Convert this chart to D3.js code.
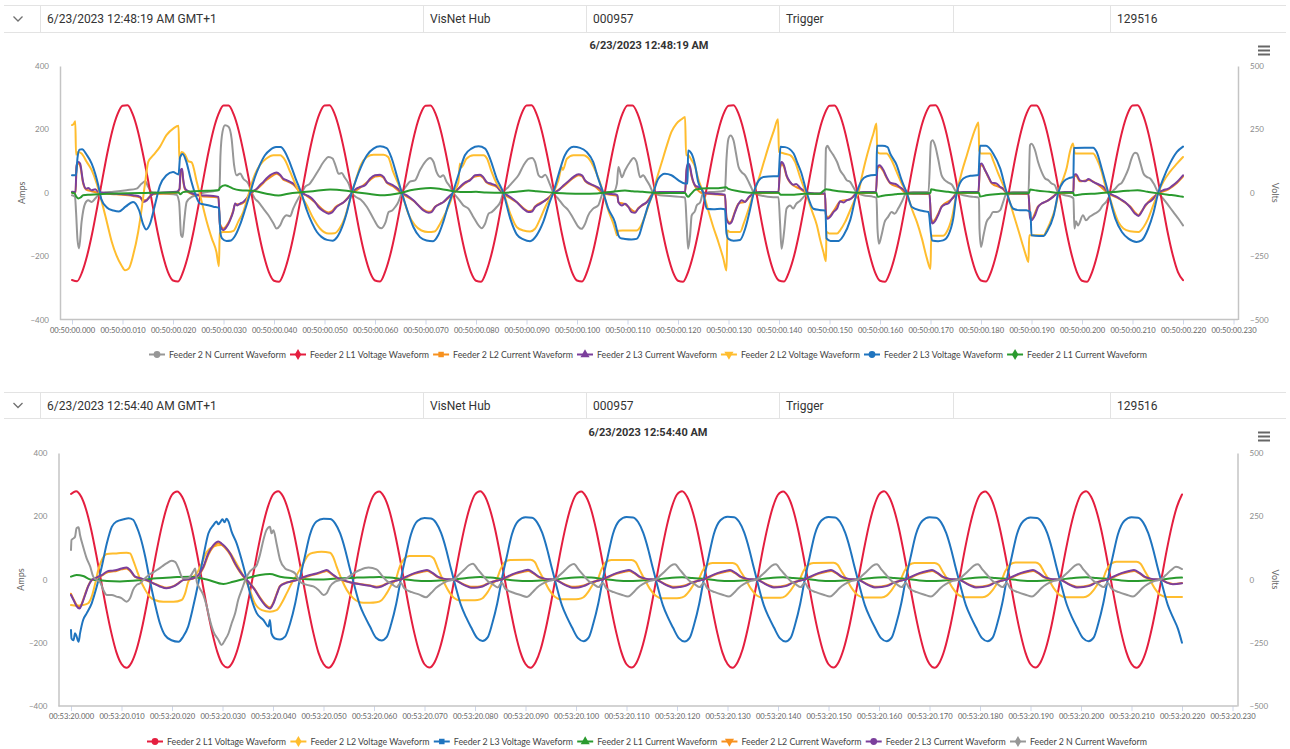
<!DOCTYPE html>
<html>
<head>
<meta charset="utf-8">
<script src="https://cdn.jsdelivr.net/npm/d3@7"></script>
<style>
  body { margin: 0; background: #fff; }
  svg { display: block; }
</style>
</head>
<body>
<svg id="page" width="1290" height="749"></svg>
<script>
// ---------------------------------------------------------------
// Shared axis values
// ---------------------------------------------------------------
const axisMs = [0, 10, 20, 30, 40, 50, 60, 70, 80, 90, 100, 110, 120, 130, 140, 150, 160, 170, 180, 190, 200, 210, 220, 230];
const ampTicks = [-400, -200, 0, 200, 400];
const voltTicks = [-500, -250, 0, 250, 500];

// ---------------------------------------------------------------
// Event 1 : 6/23/2023 12:48:19 AM
// ---------------------------------------------------------------
const ev1Header = ["6/23/2023 12:48:19 AM GMT+1", "VisNet Hub", "000957", "Trigger", "", "129516"];
const ev1Title = "6/23/2023 12:48:19 AM";
const ev1TimePrefix = "00:50:00.";

// L1 voltage (V), one sample per millisecond
const ev1_L1V = [
  -344,-349,-313,-248,-160,-56,52,157,246,309,343,345,311,247,158,56,-54,-160,-248,-313,
  -346,-350,-312,-247,-159,-55,53,158,247,310,344,344,310,246,157,55,-55,-161,-249,-314,
  -347,-351,-313,-246,-158,-54,54,159,247,311,344,345,311,246,158,54,-55,-160,-248,-313,
  -346,-350,-312,-247,-159,-55,53,158,246,310,343,344,311,247,158,55,-54,-160,-249,-314,
  -347,-351,-313,-248,-160,-55,53,157,246,310,344,345,310,246,157,55,-55,-161,-248,-313,
  -346,-350,-312,-247,-158,-54,54,158,247,311,344,344,311,247,158,54,-55,-160,-248,-313,
  -347,-351,-313,-247,-159,-55,53,158,246,310,343,345,311,246,157,55,-54,-160,-249,-314,
  -346,-350,-312,-248,-160,-56,52,157,246,309,343,344,310,246,158,56,-54,-161,-248,-313,
  -347,-351,-313,-247,-159,-55,53,158,247,310,344,345,311,247,158,55,-55,-160,-248,-313,
  -346,-350,-312,-246,-158,-54,54,159,247,311,344,344,310,246,157,54,-55,-161,-249,-314,
  -347,-351,-313,-247,-159,-55,53,158,246,310,344,345,311,247,158,55,-54,-160,-248,-313,
  -345
];

// L2 voltage (V), [ms, value]
const ev1_L2V = [
  [0,267],[0.4,273],[0.65,282],[0.8,150],[1.2,161],[1.9,155],[2.9,122],[3.9,89],[4.9,36],[5.9,-36],[6.9,-115],[7.9,-195],[8.8,-247],[9.8,-287],[10.5,-306],[11.2,-300],[12.1,-247],[13.1,-155],[13.8,-63],[14.5,43],[15.1,122],[16.1,148],[17.4,181],[18.7,227],[20.1,254],[21.1,264],[21.25,130],[21.7,161],[22.4,150],[23,125],[23.7,120],[24.7,43],[25.7,-36],[26.7,-115],[27.7,-181],[28.6,-234],[29.1,-290],[29.25,-160],[30,-155],[31,-155],[32,-150],[32.9,-115],[33.9,-76],[34.9,-10],[35.9,56],[37.2,109],[38.5,135],[39.9,148],[41.2,148],[42.2,128],[43.2,82],[44.2,36],[45.1,-3],[46.5,-49],[47.8,-102],[49.1,-141],[50.8,-161],[52,-160],[53,-140],[54,-100],[55,-30],[55.6,10],[56.5,70],[57.2,110],[58.4,141],[59.7,150],[61.7,150],[62.6,141],[63.6,82],[64.6,36],[65.3,0],[66.6,-83],[67.9,-128],[69.2,-149],[70.5,-155],[71.8,-153],[72.9,-122],[73.9,-83],[74.9,-37],[75.5,0],[76.5,40],[76.8,115],[77.1,100],[78.1,134],[79.5,148],[81.5,148],[82.2,134],[83.1,82],[84.1,36],[85.4,0],[86.8,-83],[88.1,-136],[89.4,-149],[90.7,-153],[91.7,-142],[92.7,-103],[93.7,-57],[94.6,-24],[95.3,0],[96.3,49],[97,101],[97.2,90],[98,134],[99.3,148],[101.2,148],[102.6,128],[103.9,75],[105.2,0],[106.2,-70],[107.2,-122],[107.7,-155],[107.9,-168],[108.2,-150],[109,-149],[110.5,-149],[111.8,-149],[112.5,-136],[113.5,-90],[114.4,-37],[115.1,0],[115.8,55],[116.8,121],[117.8,187],[118.7,240],[119.7,273],[120.7,290],[121.4,299],[121.6,148],[122,148],[122.7,128],[123.4,101],[124,55],[125,0],[126,-70],[127,-136],[128,-195],[129,-261],[129.6,-307],[129.8,-149],[130.3,-155],[131,-155],[132.3,-155],[133,-122],[134,-63],[135,0],[136,55],[137,121],[138,187],[139,246],[139.8,290],[140,161],[141,155],[142.2,148],[143.2,121],[144.2,60],[145.5,-10],[146.5,-70],[147.5,-128],[148.1,-181],[148.8,-234],[149.3,-270],[149.4,-155],[150,-161],[151.5,-161],[152.1,-148],[153.1,-115],[154.1,-69],[155.1,-23],[155.7,0],[156.4,63],[157.1,122],[158,188],[158.7,234],[159.3,273],[159.45,161],[160,155],[161.3,155],[162.3,128],[163.3,82],[164.3,36],[165.3,0],[166.3,-63],[167.3,-115],[168.3,-181],[169.3,-260],[170,-300],[170.15,-168],[170.5,-170],[172.5,-170],[173.2,-155],[174.2,-102],[175.2,0],[176.2,82],[177.2,148],[178.2,214],[178.9,254],[179.5,277],[179.65,168],[180,155],[181.8,155],[182.4,128],[183.4,76],[184.4,30],[185.1,0],[186.1,-63],[187.1,-128],[188.1,-195],[188.8,-241],[189.4,-273],[189.55,-168],[190.5,-168],[192.4,-168],[193,-148],[194,-102],[195,-36],[195.3,0],[196.3,56],[197,101],[197.6,161],[198.2,194],[198.6,155],[200,155],[202.2,155],[202.9,135],[203.9,82],[204.5,36],[205.2,0],[206.2,-63],[207.2,-115],[208.2,-141],[209.5,-152],[211.2,-155],[212.2,-135],[213.1,-102],[214.1,-50],[215.1,0],[216.1,43],[217.4,82],[218.8,115],[220,141]
];

// L3 voltage (V), [ms, value]
const ev1_L3V = [
  [0,69],[0.8,70],[1.1,140],[1.5,170],[2,172],[2.9,150],[3.9,115],[4.6,75],[5.2,30],[5.8,-25],[6.9,-58],[8.2,-70],[9.3,-74],[10.6,-55],[12.1,-36],[13.3,-70],[14.1,-125],[14.7,-145],[15.4,-125],[16.4,-50],[17.4,28],[18.7,69],[20,82],[21.1,72],[21.4,140],[21.9,153],[22.6,125],[23.5,55],[24.5,-10],[25.3,-42],[26.7,-48],[28,-55],[29.1,-60],[29.4,-160],[29.7,-180],[30.6,-190],[31.5,-188],[32.3,-170],[33.3,-125],[34.3,-65],[35.3,0],[36.2,60],[37.2,110],[38.2,148],[39.2,168],[40.4,180],[41.3,180],[42.2,160],[43.2,115],[44.3,55],[45.4,0],[46.5,-69],[47.5,-118],[48.5,-155],[49.4,-174],[50.5,-186],[51.6,-189],[52.5,-175],[53.5,-135],[54.5,-72],[55.4,0],[56.4,60],[57.2,100],[58.4,148],[59.7,174],[61,183],[62.3,176],[63.3,136],[64.3,69],[65.3,0],[66.3,-63],[67.6,-135],[68.9,-175],[70.2,-188],[71.5,-191],[72.5,-168],[73.5,-116],[74.5,-50],[75.4,0],[76.5,69],[77.8,148],[79.1,174],[80.5,183],[81.8,174],[82.8,134],[84.1,56],[85.4,0],[86.8,-103],[88.1,-165],[89.4,-184],[90.7,-191],[92,-168],[93.3,-116],[94.6,-37],[95.3,0],[96.3,69],[97.6,148],[99.3,181],[100.6,177],[101.9,161],[103.2,122],[104.2,56],[105.2,0],[106.2,-63],[107.5,-116],[108.2,-168],[108.6,-179],[109.5,-182],[110.8,-184],[111.8,-182],[112.3,-168],[113.1,-116],[114.1,-50],[115.1,0],[116.1,55],[117.4,75],[118.7,69],[120.1,49],[121.4,36],[121.9,36],[122,167],[122.7,154],[123.4,108],[124,42],[125,0],[125.7,-63],[127,-65],[128.5,-63],[129.3,-65],[129.6,-160],[130,-182],[131,-189],[132.3,-186],[133.3,-142],[134.3,-63],[135,0],[136,49],[136.9,62],[138.9,65],[139.9,65],[140.3,181],[141.2,180],[142.9,155],[143.6,120],[144.4,80],[145.5,0],[146.8,-63],[148,-68],[149.2,-70],[149.4,-180],[150.2,-190],[151.8,-190],[152.8,-168],[154.1,-108],[155.4,0],[156.4,49],[157.4,65],[159,70],[159.3,70],[159.4,185],[160.5,185],[161.5,180],[162,155],[163.3,109],[164.3,49],[165.3,0],[166.3,-56],[168,-70],[169.6,-76],[170.3,-188],[171.5,-191],[172.5,-188],[173.5,-168],[174.5,-102],[175.2,0],[176.5,56],[177.9,67],[179.5,70],[179.8,185],[181,185],[182.4,155],[183.8,96],[185.1,0],[186.4,-63],[187.7,-69],[189,-69],[189.8,-78],[190,-168],[191.5,-171],[192.4,-171],[193,-155],[194.4,-89],[195.3,0],[196.3,43],[197.6,59],[198.3,63],[198.4,177],[200.5,178],[202.2,178],[202.9,161],[203.9,96],[205.2,0],[206.6,-102],[207.9,-155],[209.2,-181],[210.8,-194],[211.8,-188],[213.1,-142],[214.1,-83],[215.1,0],[216.1,56],[217.4,115],[218.8,161],[220,182]
];

// L1 current (A), [ms, value]
const ev1_L1I = [
  [0,0],[0.5,-2],[0.8,-11],[1.25,-18],[1.7,-15],[2.2,-8],[3.6,-6],[6.9,-3],[13.5,-1],[20,1],[21.1,1],[21.4,-5],[22,2],[23.4,4],[26.7,6],[29,8],[29.3,16],[30.3,24],[31,20],[31.9,13],[33.3,8],[35.9,6],[38.5,-3],[40.9,-9],[42.8,-3],[45.8,2],[48.4,6],[51.1,10],[54.4,6],[57,0],[59,-4],[61,-8],[63,-6],[65.3,0],[67,8],[69,13],[71,15],[73,12],[75.5,5],[78,2],[80,3],[82,1],[85.4,0],[88,3],[90.4,7],[92,5],[95.3,0],[98,-2],[101,-3],[104,-2],[105.2,0],[107,3],[109.5,7],[111,5],[113,3],[115.1,0],[118,-1],[121.4,-1],[121.7,-8],[122,-13],[122.5,-5],[123.5,10],[126,14],[128,14],[129.5,17],[130,12],[132,5],[135,0],[139.9,0],[140.3,-6],[141,-6],[143,-6],[145,-3],[148,-3],[149.3,11],[150.5,8],[153,3],[155.4,0],[159.3,0],[159.5,-13],[160.3,-10],[163,-5],[165.3,-2],[170,-1],[170.1,11],[171,8],[173.5,3],[175.2,0],[179.6,0],[179.8,-12],[181,-8],[183.5,-4],[185.1,-2],[189.5,-1],[189.7,10],[191,7],[193.5,3],[195.3,0],[198.3,0],[198.4,-8],[200,-5],[203,-2],[206,2],[209,6],[211,8],[213,3],[215.1,-2],[217,-6],[219,-10],[220,-13]
];

// L2 current (A), [ms, value]
const ev1_L2I = [
  [0,0],[0.7,-1],[0.9,80],[1.25,92],[1.6,86],[2.2,30],[2.8,10],[3.9,5],[5.2,0],[8.8,-5],[12.1,-10],[13.5,-15],[14.1,-24],[14.8,-22],[15.4,-12],[16.1,-5],[20.7,0],[21.3,10],[21.5,66],[21.8,70],[22,40],[22.4,10],[23,2],[25.3,-10],[29,-15],[29.3,-98],[30,-113],[30.6,-104],[31.3,-84],[31.9,-58],[32.3,-36],[33.3,-36],[34.6,-20],[35.2,-5],[35.9,3],[37.2,20],[38.5,40],[39.9,56],[40.5,60],[41.2,54],[41.8,42],[42.5,37],[43.8,26],[45.1,3],[46.5,-10],[48.1,-30],[49.8,-55],[50.8,-62],[51.5,-58],[52.2,-45],[53.8,-30],[55.4,-2],[57,15],[59,40],[60,51],[61,53],[61.7,47],[62.3,32],[63.6,20],[65.3,-2],[67.6,-25],[69.6,-53],[70.6,-60],[71.2,-58],[71.9,-44],[73.5,-30],[75.5,-2],[77.8,29],[79.8,51],[80.8,54],[81.4,47],[82.1,32],[84.1,18],[85.4,-2],[88.1,-30],[90.4,-58],[91.1,-56],[91.7,-43],[93.7,-24],[95.3,-2],[97.3,20],[99.3,47],[100.3,55],[101,52],[101.6,37],[103.6,19],[105.2,-2],[108,-10],[108.2,-30],[109.5,-36],[111.5,-60],[112.1,-49],[113.8,-30],[115.1,-2],[121.4,0],[121.7,70],[122,86],[122.4,76],[122.7,50],[123.4,20],[125,-2],[129.3,-8],[129.6,-78],[130.2,-94],[130.6,-89],[131.3,-58],[132,-34],[133.3,-28],[135,-2],[139.9,0],[140.2,76],[140.5,91],[141,81],[141.5,52],[142.2,32],[144.2,12],[145.8,-2],[149.1,-4],[149.3,-68],[149.6,-78],[150.8,-58],[152.1,-28],[154.1,-20],[155.4,-2],[159.2,0],[159.5,77],[159.9,82],[160.7,67],[161.3,47],[162,30],[163.9,16],[165.3,-2],[169.8,-4],[170.1,-78],[170.4,-92],[171.5,-67],[172.2,-43],[174.2,-20],[175.2,-2],[179.5,0],[179.8,82],[180.1,87],[181.5,47],[182.1,30],[184.4,11],[185.1,-2],[189.4,-4],[189.7,-73],[190,-83],[191.3,-43],[193.3,-24],[195.3,-2],[198.3,0],[198.4,50],[198.8,54],[199.6,36],[201.3,40],[203.3,24],[205.2,-2],[207.5,-20],[209.5,-43],[211.2,-70],[211.8,-58],[213.1,-30],[215.1,-2],[217.1,11],[218.8,31],[220,51]
];

// L3 current (A), [ms, value]
const ev1_L3I = [
  [0,3],[0.7,2],[0.9,87],[1.25,97],[1.6,92],[2.2,34],[2.8,13],[3.2,15],[3.9,8],[4.6,11],[5.2,3],[6.2,0],[8.8,-3],[12.1,-8],[13.5,-13],[14.1,-29],[14.8,-24],[15.4,-13],[16.1,-3],[17.4,0],[20.7,3],[21.3,13],[21.5,71],[21.8,76],[22,45],[22.4,13],[23,5],[25.3,-8],[28,-10],[29,-13],[29.3,-103],[30,-118],[30.6,-108],[31.3,-87],[31.9,-61],[32.3,-34],[32.7,-40],[33.3,-34],[33.9,-29],[34.6,-18],[35.2,-3],[35.9,5],[36.6,13],[37.2,24],[37.9,34],[38.5,45],[39.2,55],[39.9,61],[40.5,64],[41.2,57],[41.8,45],[42.5,40],[43.2,34],[43.8,29],[44.5,18],[45.1,5],[45.8,-3],[46.5,-8],[47.5,-18],[48.1,-29],[48.8,-45],[49.8,-58],[50.8,-66],[51.5,-62],[52.2,-48],[53,-38],[53.8,-30],[54.6,-18],[55.4,0],[56.2,12],[57,18],[58,23],[59,44],[60,55],[61,57],[61.7,50],[62.3,34],[63,28],[63.6,23],[64.6,12],[65.3,0],[66.3,-8],[67.6,-24],[68.6,-40],[69.6,-56],[70.6,-63],[71.2,-61],[71.9,-45],[72.9,-35],[73.5,-30],[74.5,-14],[75.5,0],[76.5,13],[77.1,23],[77.8,32],[78.8,39],[79.8,55],[80.8,57],[81.4,50],[82.1,34],[83.1,28],[84.1,21],[84.8,7],[85.4,0],[86.8,-14],[88.1,-30],[89.4,-51],[90.4,-61],[91.1,-59],[91.7,-45],[92.7,-35],[93.7,-24],[94.6,-14],[95.3,0],[96.3,7],[97.3,23],[98.3,36],[99.3,50],[100.3,58],[101,55],[101.6,39],[102.6,28],[103.6,21],[104.5,13],[105.2,0],[106.2,-3],[107.5,-5],[108,-8],[108.2,-30],[108.9,-40],[109.5,-35],[110.2,-45],[110.8,-61],[111.5,-63],[112.1,-51],[112.8,-40],[113.8,-30],[114.4,-19],[115.1,0],[116.4,2],[121.4,2],[121.7,76],[122,92],[122.4,81],[122.7,55],[123.4,23],[124,18],[124.7,10],[125,0],[127,-3],[129.3,-6],[129.6,-82],[130.2,-98],[130.6,-93],[131.3,-61],[132,-35],[132.6,-24],[133.3,-29],[134,-14],[134.6,-6],[135,0],[136.2,2],[139.9,2],[140.2,81],[140.5,97],[141,86],[141.5,55],[142.2,34],[142.8,25],[143.4,28],[144.2,15],[145.2,5],[145.8,0],[147,-2],[149.1,-2],[149.3,-71],[149.6,-82],[150.1,-77],[150.8,-61],[151.5,-50],[152.1,-27],[152.8,-31],[153.4,-24],[154.1,-20],[154.7,-13],[155.4,0],[156.7,2],[159.2,2],[159.5,82],[159.9,87],[160.7,71],[161.3,50],[162,32],[162.6,29],[163.3,26],[163.9,18],[164.6,11],[165.3,0],[166.6,-2],[169.8,-2],[170.1,-82],[170.4,-97],[170.9,-90],[171.5,-71],[172.2,-45],[172.9,-37],[173.5,-34],[174.2,-20],[174.9,-8],[175.2,0],[176.5,2],[179.5,2],[179.8,87],[180.1,92],[180.8,71],[181.5,50],[182.1,32],[183.1,29],[183.8,18],[184.4,13],[185.1,0],[186.4,-2],[189.4,-2],[189.7,-77],[190,-87],[190.7,-71],[191.3,-45],[192,-34],[192.7,-29],[193.3,-24],[194.3,-13],[195.3,0],[196.6,2],[198.3,2],[198.4,55],[198.8,58],[199.6,39],[200.6,36],[201.3,43],[202.2,34],[203.3,26],[204.3,18],[205.2,0],[206.2,-8],[206.9,-13],[207.5,-19],[208.5,-29],[209.5,-45],[210.5,-66],[211.2,-73],[211.8,-61],[212.5,-40],[213.1,-31],[213.8,-24],[214.4,-13],[215.1,0],[216.1,8],[217.1,13],[217.8,21],[218.8,34],[220,55]
];

// Neutral current (A), [ms, value]
const ev1_NI = [
  [0,-8],[0.6,-13],[0.8,-60],[1.1,-150],[1.4,-176],[1.9,-92],[2.6,-34],[3.2,-24],[3.9,-29],[4.6,-18],[5.2,-8],[6.2,0],[8.2,3],[10.8,8],[12.8,13],[13.8,29],[14.5,36],[15.1,18],[15.8,2],[16.8,0],[18.7,-3],[20.7,-6],[21.2,-29],[21.6,-134],[21.9,-140],[22.2,-92],[22.7,-29],[23.7,-13],[24.7,-8],[26,0],[28,5],[29.2,10],[29.4,119],[29.8,192],[30.3,213],[31,208],[31.6,171],[32.1,87],[32.6,55],[33.3,61],[33.9,45],[34.9,29],[35.6,0],[36.2,-18],[36.9,-29],[37.9,-50],[38.9,-71],[39.9,-97],[40.5,-113],[41.2,-103],[41.8,-82],[42.5,-71],[43.2,-74],[43.8,-50],[44.8,-18],[45.5,0],[46.1,18],[47.1,29],[47.8,45],[48.8,71],[49.8,97],[50.8,113],[51.6,108],[52.2,85],[52.8,60],[53.4,62],[54,48],[54.8,28],[55.4,0],[56.4,-15],[57.2,-22],[58.4,-45],[59.7,-82],[60.7,-108],[61.3,-112],[62.1,-93],[62.7,-61],[63.4,-56],[64,-45],[64.6,-30],[65.3,0],[66.3,23],[66.9,35],[67.9,39],[68.9,71],[69.9,97],[70.9,110],[71.6,97],[72.2,65],[72.9,50],[73.5,55],[74.2,34],[74.9,18],[75.5,0],[76.5,-19],[77.5,-40],[78.5,-50],[79.5,-77],[80.5,-103],[81.1,-112],[81.8,-98],[82.5,-66],[83.1,-61],[84.1,-45],[84.8,-30],[85.4,0],[86.4,18],[87.4,36],[88.4,55],[89.4,86],[90.4,107],[91.1,110],[91.7,97],[92.4,55],[93,49],[93.7,57],[94.6,28],[95.3,0],[96.3,-19],[97.3,-40],[98.3,-56],[99.3,-82],[100.3,-108],[100.9,-114],[101.6,-98],[102.2,-72],[103.2,-50],[104.2,-40],[105.2,0],[106.2,2],[107.2,2],[107.9,28],[108.2,81],[108.9,49],[109.5,70],[110.5,97],[111.2,110],[111.8,97],[112.5,49],[113.1,55],[113.8,39],[114.4,23],[115.1,0],[116.4,-8],[118.4,-10],[120.4,-13],[121.4,-15],[121.7,-93],[122,-177],[122.4,-134],[122.7,-72],[123.4,-56],[123.7,-40],[124.4,-30],[125,0],[126.3,2],[128.3,4],[129.3,7],[129.6,107],[130,171],[130.4,181],[131,165],[131.5,123],[132,81],[132.6,65],[133.3,55],[134,34],[134.6,13],[135,0],[136.2,-8],[138.9,-14],[139.9,-14],[140.2,-93],[140.5,-177],[141,-124],[141.5,-50],[142.2,-40],[142.8,-50],[143.4,-35],[144.2,-25],[145.2,-8],[145.8,0],[147,-3],[149.1,-3],[149.3,140],[149.6,148],[150.1,134],[150.8,118],[151.5,97],[152.1,71],[152.8,55],[153.4,40],[154.1,34],[154.7,18],[155.4,0],[156.7,-8],[158.7,-13],[159.3,-16],[159.5,-113],[159.8,-161],[160.3,-134],[160.9,-93],[161.6,-76],[162.3,-61],[162.9,-66],[163.6,-50],[164.3,-29],[165.3,0],[166.6,2],[169.6,2],[170.1,160],[170.4,166],[170.9,150],[171.5,108],[172.2,55],[172.9,39],[173.5,32],[174.2,26],[175.2,0],[176.5,-8],[178.5,-13],[179.6,-16],[179.7,-113],[180,-171],[180.5,-134],[181.1,-92],[181.8,-76],[182.4,-61],[183.1,-61],[183.8,-55],[184.4,-29],[185.1,0],[186.4,2],[189.4,2],[189.7,150],[190,155],[190.7,134],[191.3,97],[192,66],[192.7,45],[193.3,40],[194,29],[194.6,24],[195.3,0],[196.6,-8],[197.9,-13],[198.3,-18],[198.5,-113],[198.8,-90],[199.2,-103],[200.2,-71],[200.8,-87],[201.5,-76],[202.5,-66],[203.5,-55],[204.1,-40],[204.8,-29],[205.5,-8],[205.8,0],[206.6,13],[207.2,24],[207.9,32],[208.5,50],[209.2,76],[209.8,108],[210.5,126],[210.9,124],[211.5,97],[212.2,60],[212.8,50],[213.5,45],[214.2,29],[215.1,0],[216.1,-19],[217.1,-40],[218.1,-61],[219.1,-82],[220,-103]
];

// ---------------------------------------------------------------
// Event 2 : 6/23/2023 12:54:40 AM
// ---------------------------------------------------------------
const ev2Header = ["6/23/2023 12:54:40 AM GMT+1", "VisNet Hub", "000957", "Trigger", "", "129516"];
const ev2Title = "6/23/2023 12:54:40 AM";
const ev2TimePrefix = "00:53:20.";

// L1 voltage (V), one sample per millisecond
const ev2_L1V = [
  338,349,328,276,197,98,-10,-117,-212,-288,-334,-349,-328,-276,-197,-98,10,117,212,287,
  335,348,327,275,196,97,-11,-118,-213,-288,-335,-348,-327,-275,-196,-97,11,118,213,288,
  336,349,328,275,197,97,-11,-117,-212,-289,-334,-349,-328,-276,-196,-98,10,118,213,288,
  335,348,327,276,196,98,-10,-118,-213,-288,-335,-348,-327,-275,-197,-97,11,117,212,287,
  336,349,328,275,197,97,-11,-117,-213,-288,-334,-349,-327,-276,-196,-98,10,118,213,288,
  335,348,327,276,196,97,-10,-118,-212,-288,-335,-348,-328,-275,-197,-97,11,117,213,288,
  336,349,327,275,197,98,-11,-117,-213,-289,-334,-349,-327,-276,-196,-97,10,118,212,287,
  335,348,328,276,196,97,-10,-118,-213,-288,-335,-348,-327,-275,-197,-98,11,117,213,288,
  336,349,327,275,197,97,-11,-117,-212,-288,-334,-349,-328,-276,-196,-97,10,118,213,288,
  335,348,328,276,196,98,-10,-118,-213,-289,-335,-348,-327,-275,-197,-97,11,117,212,287,
  336,349,327,275,197,97,-11,-117,-213,-288,-334,-349,-328,-276,-196,-98,10,118,213,288,
  336
];

// L2 voltage (V), [ms, value]
const ev2_L2V = [
  [0,-101],[1.1,-104],[2.4,-101],[3.4,-94],[4.1,-68],[4.8,-15],[5.4,38],[6.1,77],[7.1,101],[9,103],[11,106],[11.7,103],[12.3,77],[13,38],[13.7,0],[14.7,-41],[15.6,-68],[16.6,-81],[18.3,-88],[20.3,-88],[21.9,-81],[22.6,-55],[23.2,-10],[23.8,5],[24.9,24],[25.9,64],[26.9,110],[28.2,130],[29.8,136],[30.8,123],[31.8,97],[33.1,51],[34.5,0],[35.4,-41],[36.4,-94],[37.8,-121],[39.4,-127],[40.7,-121],[41.7,-94],[42.7,-55],[43.7,-15],[44.7,18],[46,64],[47,97],[48,106],[49.6,110],[51.3,106],[51.9,90],[52.6,51],[53.6,0],[54.6,-41],[55.9,-74],[57.9,-92],[59.2,-92],
  [60.5,-90],[61.5,-82],[62.5,-55],[63.5,-20],[64.3,0],[65,45],[66,82],[67,93],[71,93],[71.8,84],[72.6,47],[73.6,0],[74.6,-40],[75.8,-72],[77,-82],[79.5,-82],
  [80.5,-81],[81.5,-74],[82.5,-50],[83.5,-16],[84.3,0],[85,38],[86,70],[87,77],[91,78],[91.8,70],[92.6,38],[93.6,0],[94.6,-38],[95.8,-68],[97,-78],[99.5,-78],
  [100.5,-77],[101.5,-70],[102.5,-47],[103.5,-15],[104.3,0],[105,38],[106,70],[107,77],[111,77],[111.8,69],[112.6,38],[113.6,0],[114.6,-36],[115.8,-64],[117,-74],[119.5,-74],
  [120.5,-73],[121.5,-66],[122.5,-44],[123.5,-14],[124.3,0],[125,32],[126,58],[127,65],[131,65],[131.8,58],[132.6,32],[133.6,0],[134.6,-35],[135.8,-63],[137,-72],[139.5,-72],
  [140.5,-72],[141.5,-65],[142.5,-43],[143.5,-14],[144.3,0],[145,32],[146,58],[147,65],[151,66],[151.8,58],[152.6,32],[153.6,0],[154.6,-34],[155.8,-62],[157,-71],[159.5,-71],
  [160.5,-71],[161.5,-64],[162.5,-42],[163.5,-13],[164.3,0],[165,32],[166,58],[167,65],[171,65],[171.8,58],[172.6,32],[173.6,0],[174.6,-34],[175.8,-62],[177,-70],[179.5,-70],
  [180.5,-70],[181.5,-63],[182.5,-42],[183.5,-13],[184.3,0],[185,33],[186,60],[187,67],[191,67],[191.8,59],[192.6,33],[193.6,0],[194.6,-34],[195.8,-62],[197,-70],[199.5,-70],
  [200.5,-70],[201.5,-63],[202.5,-42],[203.5,-13],[204.3,0],[205,35],[206,63],[207,70],[211,70],[211.8,62],[212.6,35],[213.6,0],[214.6,-35],[215.8,-62],[217,-69],[220,-69]
];

// L3 voltage (V), [ms, value]
const ev2_L3V = [
  [0,-200],[0.1,-233],[0.5,-240],[0.8,-212],[1.1,-225],[1.5,-246],[1.8,-212],[2.4,-160],[3.1,-134],[4.1,-94],[5.1,-28],[6.1,51],[7.1,143],[8.1,209],[9,229],[10.4,238],[11.4,242],[12.3,236],[13,209],[13.7,170],[14.7,90],[15.6,-2],[16.6,-94],[17.6,-173],[18.6,-220],[19.9,-240],[21.3,-246],[22.2,-226],[23.2,-186],[24.2,-107],[25.2,-15],[26.2,90],[27.2,182],[28.2,215],[28.8,229],[29.2,218],[29.5,225],[30,238],[30.4,226],[30.8,240],[31.2,229],[31.8,189],[32.8,143],[33.8,77],[34.8,0],[35.8,-81],[36.8,-134],[38.1,-160],[39.1,-186],[39.4,-160],[39.7,-213],[40.4,-233],[41.4,-237],[42.4,-226],[43.4,-173],[44.4,-94],[45.3,0],[46.3,90],[47.3,176],[48.6,229],[50,240],[51.3,239],[52.3,222],[53.3,182],[54.3,117],[55.2,44],[55.8,0],[57.2,-101],[58.2,-147],[59.2,-186],
  [60.4,-230],[61.5,-241],[62.5,-228],[63.4,-176],[64.4,-96],[65.3,0],[66.3,92],[67.3,177],[68.6,231],[70,243],[71.3,241],[72.3,224],[73.3,183],[74.3,118],[75.2,45],[75.8,0],[77.2,-100],[78.2,-148],[79.2,-188],
  [80.4,-231],[81.5,-243],[82.5,-229],[83.4,-175],[84.4,-95],[85.3,0],[86.3,91],[87.3,178],[88.6,232],[90,246],[91.3,244],[92.3,226],[93.3,185],[94.3,119],[95.2,46],[95.8,0],[97.2,-101],[98.2,-149],[99.2,-189],
  [100.4,-232],[101.5,-244],[102.5,-230],[103.4,-176],[104.4,-96],[105.3,0],[106.3,92],[107.3,179],[108.6,233],[110,247],[111.3,245],[112.3,227],[113.3,185],[114.3,119],[115.2,46],[115.8,0],[117.2,-101],[118.2,-150],[119.2,-190],
  [120.4,-233],[121.5,-245],[122.5,-231],[123.4,-177],[124.4,-96],[125.3,0],[126.3,93],[127.3,180],[128.6,234],[130,248],[131.3,246],[132.3,228],[133.3,186],[134.3,120],[135.2,47],[135.8,0],[137.2,-102],[138.2,-150],[139.2,-190],
  [140.4,-233],[141.5,-245],[142.5,-231],[143.4,-177],[144.4,-96],[145.3,0],[146.3,92],[147.3,179],[148.6,233],[150,247],[151.3,245],[152.3,227],[153.3,185],[154.3,119],[155.2,46],[155.8,0],[157.2,-101],[158.2,-150],[159.2,-190],
  [160.4,-232],[161.5,-244],[162.5,-230],[163.4,-176],[164.4,-95],[165.3,0],[166.3,92],[167.3,178],[168.6,232],[170,246],[171.3,244],[172.3,226],[173.3,184],[174.3,118],[175.2,45],[175.8,0],[177.2,-101],[178.2,-149],[179.2,-189],
  [180.4,-232],[181.5,-244],[182.5,-230],[183.4,-176],[184.4,-95],[185.3,0],[186.3,91],[187.3,178],[188.6,231],[190,245],[191.3,243],[192.3,225],[193.3,184],[194.3,118],[195.2,45],[195.8,0],[197.2,-100],[198.2,-149],[199.2,-189],
  [200.4,-232],[201.5,-244],[202.5,-230],[203.4,-176],[204.4,-95],[205.3,0],[206.3,92],[207.3,178],[208.6,232],[210,246],[211.3,244],[212.3,226],[213.3,184],[214.3,118],[215.2,45],[215.8,0],[217.2,-101],[218.2,-149],[219.2,-195],[220,-250]
];

// L1 current (A), [ms, value]
const ev2_L1I = [
  [0,9],[1.1,14],[2.4,11],[3.8,0],[5.4,-2],[7.1,-5],[9.7,-6],[13.7,-2],[17,4],[20.3,7],[23.6,9],[26.9,0],[30.2,-14],[32.1,-7],[34.8,4],[37.4,14],[39.4,17],[41.4,9],[44,4],[46.7,1],[50,0],[53.3,4],[56.6,6],[59.2,7],
  [61,8],[63,6],[65.3,2],[68,-3],[70.5,-5],[73,-3],[75.8,0],[78,4],
  [81,8],[83,6],[85.3,2],[88,-3],[90.5,-5],[93,-3],[95.8,0],[98,4],
  [101,7],[103,6],[105.3,2],[108,-3],[110.5,-5],[113,-3],[115.8,0],[118,4],
  [121,7],[123,5],[125.3,2],[128,-3],[130.5,-5],[133,-3],[135.8,0],[138,4],
  [141,7],[143,5],[145.3,2],[148,-3],[150.5,-5],[153,-3],[155.8,0],[158,4],
  [161,7],[163,5],[165.3,2],[168,-3],[170.5,-5],[173,-3],[175.8,0],[178,4],
  [181,7],[183,5],[185.3,2],[188,-3],[190.5,-5],[193,-3],[195.8,0],[198,4],
  [201,7],[203,5],[205.3,2],[208,-3],[210.5,-5],[213,-3],[215.8,0],[218,4],[220,6]
];

// L2 current (A), [ms, value]
const ev2_L2I = [
  [0,-45],[0.5,-62],[1.1,-80],[1.7,-88],[2.1,-77],[2.8,-46],[3.4,-20],[4.1,-2],[4.8,3],[5.4,7],[6.1,12],[7.1,22],[8.1,25],[9,27],[10,32],[11,35],[11.7,27],[12.7,8],[13.7,3],[15,-3],[16.3,-12],[17.6,-20],[18.9,-26],[20.3,-21],[21.3,-11],[22.2,-2],[23.2,0],[24.2,3],[25.2,12],[26.2,36],[27.2,78],[28.2,104],[29.2,115],[29.8,110],[30.5,100],[31.5,79],[32.5,48],[33.5,22],[34.5,2],[35.4,-12],[36.4,-31],[37.4,-56],[38.4,-77],[39.4,-88],[40.1,-72],[40.7,-46],[41.4,-20],[42.4,-11],[43.4,-7],[44.7,-2],[46,5],[47.3,12],[48.6,17],[50,24],[50.6,27],[51.6,17],[52.6,5],[53.9,-3],[55.6,-10],[57.2,-14],[59.2,-19],
  [60.5,-23],[61.5,-20],[63,-9],[64.5,-3],[65.3,0],[66.5,8],[68,18],[69.5,24],[70.5,27],[71.5,20],[72.7,7],[74,1],[75.8,-1],[77,-9],[78.2,-18],[79.2,-23],
  [80.5,-23],[81.5,-20],[83,-9],[84.5,-3],[85.3,0],[86.5,8],[88,18],[89.5,24],[90.5,27],[91.5,20],[92.7,7],[94,1],[95.8,-1],[97,-9],[98.2,-18],[99.2,-23],
  [100.5,-22],[101.5,-19],[103,-9],[104.5,-3],[105.3,0],[106.5,8],[108,18],[109.5,24],[110.5,27],[111.5,20],[112.7,7],[114,1],[115.8,-1],[117,-9],[118.2,-18],[119.2,-23],
  [120.5,-22],[121.5,-19],[123,-9],[124.5,-3],[125.3,0],[126.5,8],[128,18],[129.5,24],[130.5,27],[131.5,20],[132.7,7],[134,1],[135.8,-1],[137,-9],[138.2,-18],[139.2,-23],
  [140.5,-22],[141.5,-19],[143,-9],[144.5,-3],[145.3,0],[146.5,8],[148,18],[149.5,24],[150.5,27],[151.5,20],[152.7,7],[154,1],[155.8,-1],[157,-9],[158.2,-18],[159.2,-23],
  [160.5,-22],[161.5,-19],[163,-9],[164.5,-3],[165.3,0],[166.5,8],[168,18],[169.5,24],[170.5,27],[171.5,20],[172.7,7],[174,1],[175.8,-1],[177,-9],[178.2,-18],[179.2,-23],
  [180.5,-22],[181.5,-19],[183,-9],[184.5,-3],[185.3,0],[186.5,8],[188,18],[189.5,24],[190.5,27],[191.5,20],[192.7,7],[194,1],[195.8,-1],[197,-9],[198.2,-18],[199.2,-23],
  [200.5,-22],[201.5,-19],[203,-9],[204.5,-3],[205.3,0],[206.5,8],[208,18],[209.5,24],[210.5,27],[211.5,20],[212.7,7],[214,1],[215.8,-1],[217,-9],[218.2,-14],[220,-11]
];

// L3 current (A), [ms, value]
const ev2_L3I = [
  [0,-49],[0.5,-65],[1.1,-84],[1.7,-92],[2.1,-80],[2.8,-49],[3.4,-22],[4.1,-2],[4.8,4],[5.4,9],[6.1,14],[7.1,25],[8.1,28],[9,30],[10,35],[11,38],[11.7,30],[12.7,9],[13.7,4],[15,-2],[16.3,-12],[17.6,-22],[18.9,-28],[20.3,-22],[21.3,-12],[22.2,-2],[23.2,1],[24.2,4],[25.2,14],[26.2,40],[27.2,83],[28.2,109],[29.2,120],[29.8,114],[30.5,104],[31.5,83],[32.5,51],[33.5,25],[34.5,4],[35.4,-12],[36.4,-33],[37.4,-59],[38.4,-81],[39.4,-92],[40.1,-75],[40.7,-49],[41.4,-22],[42.4,-12],[43.4,-7],[44.7,-2],[46,7],[47.3,14],[48.6,19],[50,27],[50.6,30],[51.6,19],[52.6,7],[53.9,-2],[55.6,-10],[57.2,-15],[59.2,-20],
  [60.5,-25],[61.5,-22],[63,-10],[64.5,-3],[65.3,0],[66.5,10],[68,20],[69.5,27],[70.5,30],[71.5,22],[72.7,8],[74,2],[75.8,0],[77,-10],[78.2,-20],[79.2,-26],
  [80.5,-25],[81.5,-22],[83,-10],[84.5,-3],[85.3,0],[86.5,10],[88,20],[89.5,27],[90.5,31],[91.5,22],[92.7,8],[94,2],[95.8,0],[97,-10],[98.2,-20],[99.2,-26],
  [100.5,-25],[101.5,-21],[103,-10],[104.5,-3],[105.3,0],[106.5,10],[108,20],[109.5,27],[110.5,30],[111.5,22],[112.7,8],[114,2],[115.8,0],[117,-10],[118.2,-20],[119.2,-26],
  [120.5,-24],[121.5,-21],[123,-10],[124.5,-3],[125.3,0],[126.5,10],[128,20],[129.5,27],[130.5,30],[131.5,22],[132.7,8],[134,2],[135.8,0],[137,-10],[138.2,-20],[139.2,-25],
  [140.5,-24],[141.5,-21],[143,-10],[144.5,-3],[145.3,0],[146.5,10],[148,20],[149.5,27],[150.5,30],[151.5,22],[152.7,8],[154,2],[155.8,0],[157,-10],[158.2,-20],[159.2,-25],
  [160.5,-24],[161.5,-21],[163,-10],[164.5,-3],[165.3,0],[166.5,10],[168,20],[169.5,27],[170.5,30],[171.5,22],[172.7,8],[174,2],[175.8,0],[177,-10],[178.2,-20],[179.2,-25],
  [180.5,-24],[181.5,-21],[183,-10],[184.5,-3],[185.3,0],[186.5,10],[188,20],[189.5,27],[190.5,30],[191.5,22],[192.7,8],[194,2],[195.8,0],[197,-10],[198.2,-20],[199.2,-25],
  [200.5,-24],[201.5,-21],[203,-10],[204.5,-3],[205.3,0],[206.5,10],[208,20],[209.5,27],[210.5,30],[211.5,22],[212.7,8],[214,2],[215.8,0],[217,-10],[218.2,-15],[220,-12]
];

// Neutral current (A), [ms, value]
const ev2_NI = [
  [0,93],[0.1,125],[0.5,130],[0.8,135],[1.1,162],[1.5,165],[1.8,140],[2.4,104],[3.1,67],[3.8,41],[4.4,9],[5.1,-2],[5.7,-7],[6.4,-33],[7.1,-49],[8.1,-49],[9,-54],[10,-59],[11,-70],[11.7,-59],[12.3,-33],[13,-17],[13.7,-12],[14.3,-2],[15,9],[16,20],[17,30],[18,41],[18.9,51],[19.9,59],[20.6,56],[21.3,35],[21.9,9],[22.2,4],[22.9,4],[23.6,9],[24.2,25],[24.6,35],[24.9,-7],[25.5,-28],[26.2,-49],[26.9,-86],[27.5,-128],[28.2,-165],[29.2,-191],[29.8,-207],[30.5,-191],[31.2,-170],[31.8,-139],[32.5,-107],[33.1,-65],[33.8,-33],[34.5,-2],[35.4,25],[36.1,35],[36.8,46],[37.4,77],[38.1,125],[38.7,156],[39.4,167],[39.7,146],[40.1,156],[40.7,114],[41.4,62],[42.4,35],[43.4,28],[44.4,19],[45.3,-7],[46.7,-17],[48,-22],[49,-33],[50,-49],[50.6,-44],[51.3,-22],[52.3,-7],[53.3,-2],[54.6,4],[55.9,19],[57.2,30],[58.9,38],
  [60.5,32],[61.5,14],[62.5,-4],[63.5,-14],[64.5,-24],[65.3,-10],[66,-28],[67.5,-40],[69,-48],[70.3,-56],[71.3,-43],[72.3,-26],[73.3,-15],[74.5,-5],[75.8,0],[76.8,15],[77.8,30],[78.8,45],[79.6,50],
  [80.5,33],[81.5,14],[82.5,-5],[83.5,-15],[84.5,-25],[85.3,-10],[86,-29],[87.5,-41],[89,-49],[90.3,-55],[91.3,-42],[92.3,-25],[93.3,-14],[94.5,-5],[95.8,0],[96.8,14],[97.8,29],[98.8,44],[99.6,49],
  [100.5,32],[101.5,13],[102.5,-5],[103.5,-15],[104.5,-24],[105.3,-10],[106,-28],[107.5,-40],[109,-48],[110.3,-54],[111.3,-42],[112.3,-25],[113.3,-14],[114.5,-5],[115.8,0],[116.8,14],[117.8,29],[118.8,44],[119.6,48],
  [120.5,32],[121.5,13],[122.5,-5],[123.5,-15],[124.5,-24],[125.3,-10],[126,-28],[127.5,-40],[129,-48],[130.3,-54],[131.3,-42],[132.3,-25],[133.3,-14],[134.5,-5],[135.8,0],[136.8,14],[137.8,29],[138.8,44],[139.6,48],
  [140.5,31],[141.5,13],[142.5,-5],[143.5,-15],[144.5,-24],[145.3,-10],[146,-28],[147.5,-40],[149,-48],[150.3,-54],[151.3,-42],[152.3,-25],[153.3,-14],[154.5,-5],[155.8,0],[156.8,14],[157.8,29],[158.8,44],[159.6,48],
  [160.5,31],[161.5,13],[162.5,-5],[163.5,-15],[164.5,-24],[165.3,-10],[166,-28],[167.5,-40],[169,-48],[170.3,-54],[171.3,-42],[172.3,-25],[173.3,-14],[174.5,-5],[175.8,0],[176.8,14],[177.8,29],[178.8,44],[179.6,48],
  [180.5,31],[181.5,13],[182.5,-5],[183.5,-15],[184.5,-24],[185.3,-10],[186,-28],[187.5,-40],[189,-48],[190.3,-54],[191.3,-42],[192.3,-25],[193.3,-14],[194.5,-5],[195.8,0],[196.8,14],[197.8,29],[198.8,44],[199.6,48],
  [200.5,31],[201.5,13],[202.5,-5],[203.5,-15],[204.5,-24],[205.3,-10],[206,-28],[207.5,-40],[209,-48],[210.3,-54],[211.3,-42],[212.3,-25],[213.3,-14],[214.5,-5],[215.8,0],[216.8,14],[217.8,29],[218.8,40],[220,33]
];

// ---------------------------------------------------------------
// Series styling
// ---------------------------------------------------------------
const COLORS = {
  L1V: "#e41e3f", L2V: "#ffbd2e", L3V: "#1f74bf",
  L1I: "#2a9a2e", L2I: "#f7911e", L3I: "#7b3f9c", NI: "#979797"
};
const SYMBOLS = ["circle", "diamond", "square", "triangle", "triangle-down", "circle", "diamond"];

const perMs = arr => arr.map((v, i) => [i, v]);

const ev1Series = [
  { name: "Feeder 2 N Current Waveform",  key: "NI",  axis: "A", data: ev1_NI },
  { name: "Feeder 2 L1 Voltage Waveform", key: "L1V", axis: "V", data: perMs(ev1_L1V) },
  { name: "Feeder 2 L2 Current Waveform", key: "L2I", axis: "A", data: ev1_L2I },
  { name: "Feeder 2 L3 Current Waveform", key: "L3I", axis: "A", data: ev1_L3I },
  { name: "Feeder 2 L2 Voltage Waveform", key: "L2V", axis: "V", data: ev1_L2V },
  { name: "Feeder 2 L3 Voltage Waveform", key: "L3V", axis: "V", data: ev1_L3V },
  { name: "Feeder 2 L1 Current Waveform", key: "L1I", axis: "A", data: ev1_L1I }
];
const ev2Series = [
  { name: "Feeder 2 L1 Voltage Waveform", key: "L1V", axis: "V", data: perMs(ev2_L1V) },
  { name: "Feeder 2 L2 Voltage Waveform", key: "L2V", axis: "V", data: ev2_L2V },
  { name: "Feeder 2 L3 Voltage Waveform", key: "L3V", axis: "V", data: ev2_L3V },
  { name: "Feeder 2 L1 Current Waveform", key: "L1I", axis: "A", data: ev2_L1I },
  { name: "Feeder 2 L2 Current Waveform", key: "L2I", axis: "A", data: ev2_L2I },
  { name: "Feeder 2 L3 Current Waveform", key: "L3I", axis: "A", data: ev2_L3I },
  { name: "Feeder 2 N Current Waveform",  key: "NI",  axis: "A", data: ev2_NI }
];

// ---------------------------------------------------------------
// Drawing
// ---------------------------------------------------------------
const svg = d3.select("#page");
const FONT_UI = "Roboto, 'Noto Sans', sans-serif";
const FONT_CHART = "Lato, 'Noto Sans', sans-serif";
const HEADER_COLS = [40, 423, 586, 779, 953, 1110];

function symbolPath(kind) {
  const map = {
    "circle": d3.symbolCircle, "diamond": d3.symbolDiamond, "square": d3.symbolSquare,
    "triangle": d3.symbolTriangle, "triangle-down": d3.symbolTriangle
  };
  return d3.symbol().type(map[kind]).size(kind === "square" ? 30 : 36)();
}

function drawEvent(ev, L, clipId) {
  const g = svg.append("g");

  // --- header row ---
  const hdr = g.append("g");
  hdr.append("line").attr("x1", 4).attr("x2", 1286).attr("y1", L.rowTop).attr("y2", L.rowTop)
    .attr("stroke", "#e3e3e3");
  hdr.append("line").attr("x1", 4).attr("x2", 1286).attr("y1", L.rowBottom).attr("y2", L.rowBottom)
    .attr("stroke", "#e3e3e3");
  HEADER_COLS.forEach(cx => {
    hdr.append("line").attr("x1", cx + 0.5).attr("x2", cx + 0.5)
      .attr("y1", L.rowTop).attr("y2", L.rowBottom).attr("stroke", "#e3e3e3");
  });
  const rowMid = (L.rowTop + L.rowBottom) / 2;
  hdr.append("path")
    .attr("d", `M13.5,${rowMid - 2.5} L18,${rowMid + 2} L22.5,${rowMid - 2.5}`)
    .attr("fill", "none").attr("stroke", "#707070").attr("stroke-width", 1.3);
  ev.header.forEach((txt, i) => {
    hdr.append("text").attr("x", HEADER_COLS[i] + 7).attr("y", rowMid + 4.2)
      .attr("font-family", FONT_UI).attr("font-size", 12).attr("fill", "#333")
      .text(txt);
  });

  // --- title & menu ---
  g.append("text").attr("x", (L.plotLeft + L.plotRight) / 2).attr("y", L.titleY)
    .attr("text-anchor", "middle").attr("font-family", FONT_UI).attr("font-weight", 700)
    .attr("font-size", 11).attr("fill", "#333").text(ev.title);
  [-4, 0, 4].forEach(dy => {
    g.append("line").attr("x1", 1258).attr("x2", 1270)
      .attr("y1", L.menuY + dy).attr("y2", L.menuY + dy)
      .attr("stroke", "#666").attr("stroke-width", 2);
  });

  // --- scales ---
  const x = d3.scaleLinear().domain([0, 230]).range([L.x0, L.x230]);
  const yA = d3.scaleLinear().domain([-400, 400]).range([L.plotBottom, L.plotTop]);
  const yV = d3.scaleLinear().domain([-500, 500]).range([L.plotBottom, L.plotTop]);

  // --- axes ---
  const axisColor = "#c4c4c4";
  const left = g.append("g").attr("transform", `translate(${L.plotLeft},0)`)
    .call(d3.axisLeft(yA).tickValues(ampTicks).tickSize(0).tickPadding(11));
  const right = g.append("g").attr("transform", `translate(${L.plotRight},0)`)
    .call(d3.axisRight(yV).tickValues(voltTicks).tickSize(0).tickPadding(12));
  [left, right].forEach(a => {
    a.select(".domain").attr("stroke", axisColor).attr("stroke-width", 1.5);
    a.selectAll("text").attr("font-family", FONT_CHART).attr("font-size", 8).attr("fill", "#8a8a8a");
  });

  const bottom = g.append("g").attr("transform", `translate(0,${L.plotBottom})`)
    .call(d3.axisBottom(x).tickValues(axisMs)
      .tickFormat(ms => ev.prefix + String(ms).padStart(3, "0"))
      .tickSize(5).tickPadding(3));
  bottom.select(".domain").remove();
  bottom.selectAll(".tick line").attr("stroke", "#ccd6eb");
  bottom.selectAll("text").attr("font-family", FONT_CHART).attr("font-size", 7.6).attr("fill", "#666");
  g.append("line").attr("x1", L.plotLeft).attr("x2", L.plotRight)
    .attr("y1", L.plotBottom).attr("y2", L.plotBottom)
    .attr("stroke", axisColor).attr("stroke-width", 1.5);

  const midY = (L.plotTop + L.plotBottom) / 2;
  g.append("text").attr("transform", `translate(${L.plotLeft - 35},${midY}) rotate(-90)`)
    .attr("text-anchor", "middle").attr("font-family", FONT_CHART).attr("font-size", 9)
    .attr("fill", "#666").text("Amps");
  g.append("text").attr("transform", `translate(${L.plotRight + 34},${midY}) rotate(90)`)
    .attr("text-anchor", "middle").attr("font-family", FONT_CHART).attr("font-size", 9)
    .attr("fill", "#666").text("Volts");

  // --- series ---
  g.append("clipPath").attr("id", clipId).append("rect")
    .attr("x", L.plotLeft).attr("y", L.plotTop - 2)
    .attr("width", L.plotRight - L.plotLeft).attr("height", L.plotBottom - L.plotTop + 4);
  const plot = g.append("g").attr("clip-path", `url(#${clipId})`);
  ev.series.forEach(s => {
    const yS = s.axis === "A" ? yA : yV;
    const line = d3.line().x(d => x(d[0])).y(d => yS(d[1])).curve(d3.curveMonotoneX);
    plot.append("path").datum(s.data).attr("d", line)
      .attr("fill", "none").attr("stroke", COLORS[s.key]).attr("stroke-width", 2)
      .attr("stroke-linejoin", "round").attr("stroke-linecap", "round");
  });

  // --- legend ---
  const lg = g.append("g");
  const items = lg.selectAll("g.item").data(ev.series).join("g").attr("class", "item");
  items.append("line").attr("x1", 0).attr("x2", 16).attr("y1", 0).attr("y2", 0)
    .attr("stroke", d => COLORS[d.key]).attr("stroke-width", 2);
  items.append("path")
    .attr("d", (d, i) => symbolPath(SYMBOLS[i]))
    .attr("transform", (d, i) => `translate(8,0)${SYMBOLS[i] === "triangle-down" ? " rotate(180)" : ""}`)
    .attr("fill", d => COLORS[d.key]);
  items.append("text").attr("x", 20).attr("y", 3.2)
    .attr("font-family", FONT_CHART).attr("font-size", 8.8).attr("fill", "#444")
    .text(d => d.name);
  const widths = items.nodes().map(n => 20 + n.querySelector("text").getComputedTextLength());
  const gap = (L.legendEnd - L.legendStart - d3.sum(widths)) / (widths.length - 1);
  let cx = L.legendStart;
  items.each(function (d, i) {
    d3.select(this).attr("transform", `translate(${cx},${L.legendY})`);
    cx += widths[i] + gap;
  });
}

drawEvent(
  { header: ev1Header, title: ev1Title, prefix: ev1TimePrefix, series: ev1Series },
  { rowTop: 5.5, rowBottom: 32.5, titleY: 49, menuY: 50.5,
    plotTop: 66, plotBottom: 319.5, plotLeft: 60, plotRight: 1238,
    x0: 72, x230: 1233.5, legendY: 354.5, legendStart: 149, legendEnd: 1147 },
  "clip-ev1");

drawEvent(
  { header: ev2Header, title: ev2Title, prefix: ev2TimePrefix, series: ev2Series },
  { rowTop: 392.5, rowBottom: 418.5, titleY: 436, menuY: 436.5,
    plotTop: 453, plotBottom: 706, plotLeft: 58.5, plotRight: 1237.5,
    x0: 71, x230: 1232.5, legendY: 741.5, legendStart: 147, legendEnd: 1147 },
  "clip-ev2");
</script>
</body>
</html>
